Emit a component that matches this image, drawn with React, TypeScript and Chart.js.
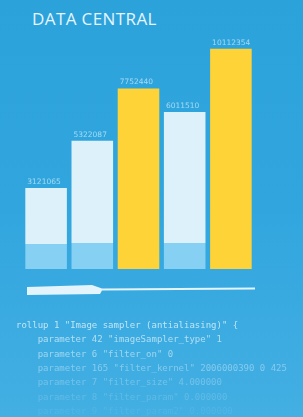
import React, { useEffect, useRef } from "react";
import { Chart, registerables } from "chart.js";

Chart.register(...registerables);

const categories = ["A", "B", "C", "D", "E"];
// stacked heights (same units for all series)
const baseValues = [1.16, 1.21, 0, 1.21, 0];
const topValues = [2.61, 4.75, 0, 6.09, 0];
const highlightValues = [0, 0, 8.4, 0, 10.25];
const valueLabels = ["3121065", "5322087", "7752440", "6011510", "10112354"];

const title = "DATA CENTRAL";
const codeLines = [
  'rollup 1 "Image sampler (antialiasing)" {',
  '    parameter 42 "imageSampler_type" 1',
  '    parameter 6 "filter_on" 0',
  '    parameter 165 "filter_kernel" 2006000390 0 425',
  '    parameter 7 "filter_size" 4.000000',
  '    parameter 8 "filter_param" 0.000000',
  '    parameter 9 "filter_param2" 0.000000',
];
const codeOpacity = [0.8, 0.7, 0.58, 0.42, 0.3, 0.18, 0.09];

const labelPlugin = {
  id: "valueLabels",
  afterDatasetsDraw(chart: any) {
    const ctx = chart.ctx;
    ctx.save();
    ctx.font = "7.5px 'DejaVu Sans'";
    ctx.fillStyle = "rgba(200,236,252,0.75)";
    ctx.textAlign = "left";
    ctx.textBaseline = "alphabetic";
    const n = chart.data.labels.length;
    for (let i = 0; i < n; i++) {
      let topEl: any = null;
      let topY = Infinity;
      chart.data.datasets.forEach((ds: any, di: number) => {
        if (!ds.data[i]) return;
        const el = chart.getDatasetMeta(di).data[i];
        if (el && el.y < topY) {
          topY = el.y;
          topEl = el;
        }
      });
      if (!topEl) continue;
      const left = topEl.x - topEl.width / 2;
      ctx.fillText(valueLabels[i], left + 2, topEl.y - 4);
    }
    ctx.restore();
  },
};

export default function App() {
  const ref = useRef<HTMLCanvasElement>(null);
  useEffect(() => {
    document.body.style.margin = "0";
    const chart = new Chart(ref.current!, {
      type: "bar",
      data: {
        labels: categories,
        datasets: [
          { label: "base", data: baseValues, backgroundColor: "#86d0f3", stack: "s" },
          { label: "top", data: topValues, backgroundColor: "#ddf1fb", stack: "s" },
          { label: "highlight", data: highlightValues, backgroundColor: "#fdd338", stack: "s" },
        ],
      },
      options: {
        animation: false,
        responsive: false,
        maintainAspectRatio: false,
        layout: { padding: { left: 23, right: 49, top: 11, bottom: 31 } },
        plugins: { legend: { display: false }, tooltip: { enabled: false }, title: { display: false } },
        datasets: { bar: { categoryPercentage: 1, barPercentage: 0.9 } },
        scales: {
          x: { display: false, stacked: true },
          y: { display: false, stacked: true, min: 0, max: 12 },
        },
      },
      plugins: [labelPlugin],
    });
    return () => chart.destroy();
  }, []);

  return (
    <div
      style={{
        position: "fixed",
        left: 0,
        top: 0,
        width: 303,
        height: 417,
        overflow: "hidden",
        background: "linear-gradient(180deg, #2ca2db 0%, #31a6de 50%, #43afe3 100%)",
      }}
    >
      <div
        style={{
          position: "absolute",
          left: 32,
          top: 7,
          fontFamily: "'Open Sans', sans-serif",
          fontSize: 17,
          letterSpacing: 0.4,
          color: "#e6f5fd",
          whiteSpace: "nowrap",
        }}
      >
        {title}
      </div>
      <canvas ref={ref} width={303} height={300} style={{ position: "absolute", left: 0, top: 0 }} />
      <svg width={303} height={417} style={{ position: "absolute", left: 0, top: 0 }}>
        <polygon
          points="27,287 92,285 102,288.5 255,287.5 255,289.5 102,290.5 100,294 27,295"
          fill="#e3f4fd"
        />
      </svg>
      {codeLines.map((line, i) => (
        <div
          key={i}
          style={{
            position: "absolute",
            left: 16,
            top: 319 + i * 14.3,
            fontFamily: "'DejaVu Sans Mono', monospace",
            fontSize: 9,
            lineHeight: "12px",
            whiteSpace: "pre",
            color: "#e3f4fd",
            opacity: codeOpacity[i],
            filter: "blur(0.3px)",
          }}
        >
          {line}
        </div>
      ))}
    </div>
  );
}
